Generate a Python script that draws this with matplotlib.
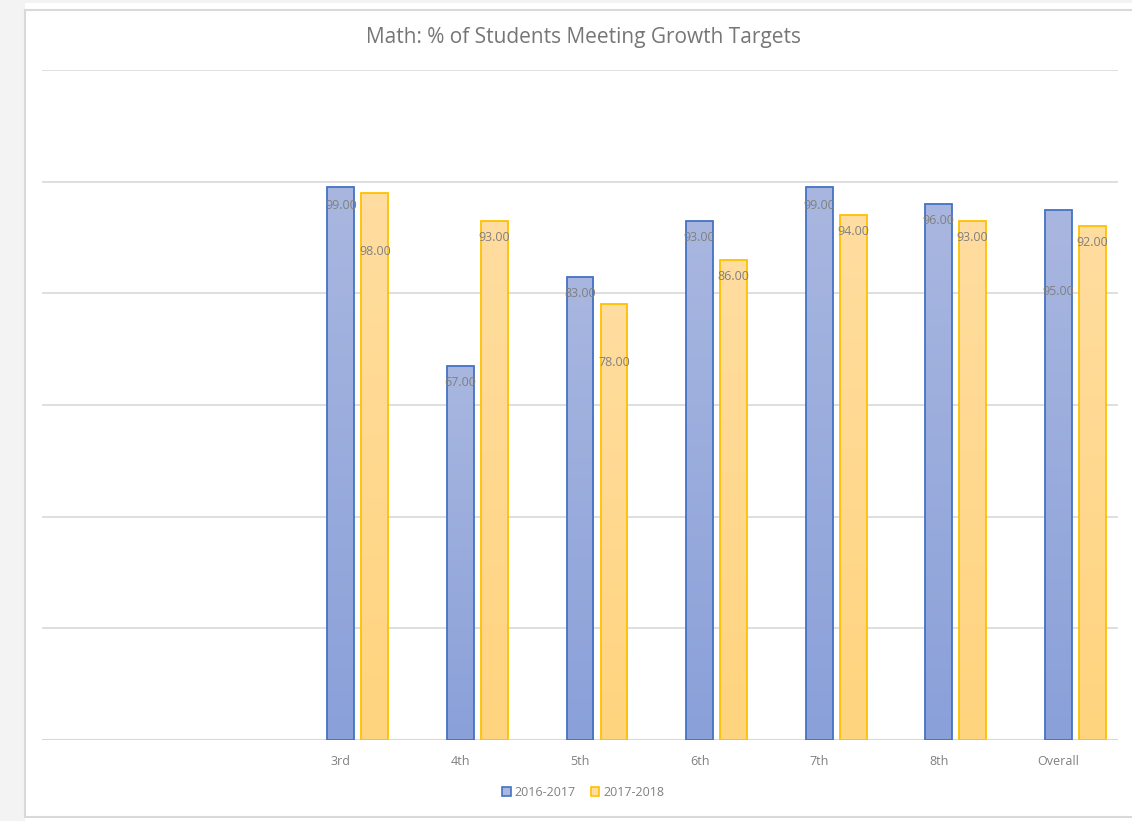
"""Math growth targets — grouped bar chart with gradient fills."""
import numpy as np
import matplotlib
matplotlib.use("Agg")
import matplotlib.pyplot as plt
from matplotlib.patches import Rectangle, Patch
from matplotlib.colors import LinearSegmentedColormap

# --- data ---
CATEGORIES = ["", "", "3rd", "4th", "5th", "6th", "7th", "8th", "Overall"]
SERIES = ["2016-2017", "2017-2018"]
Y_2016 = [None, None, 99, 67, 83, 93, 99, 96, 95]
Y_2017 = [None, None, 98, 93, 78, 86, 94, 93, 92]

# label drop below bar top, in points (style only)
DROP_2016 = [0, 0, 13, 12, 12, 12, 13, 12, 59]
DROP_2017 = [0, 0, 42, 12, 42, 12, 12, 12, 12]

EDGE = ["#4472C4", "#FFC000"]
GRAD = [("#A9B7E0", "#8AA0D9"), ("#FFDDA0", "#FFD47E")]
TEXT = "#808080"
GRID = "#D9D9D9"

plt.rcParams["font.family"] = ["Open Sans", "DejaVu Sans"]

fig = plt.figure(figsize=(11.32, 8.21), dpi=100)
W, H = 1132, 821

# outer frame like the screenshot
fig.patches.append(Rectangle((0, 0), 25 / W, 1, transform=fig.transFigure,
                             facecolor="#F3F3F3", edgecolor="none", zorder=-2))
fig.patches.append(Rectangle((0, 1 - 3 / H), 1, 3 / H, transform=fig.transFigure,
                             facecolor="#F3F3F3", edgecolor="none", zorder=-2))
fig.patches.append(Rectangle((25 / W, 1 - 817 / H), 1.2, (817 - 10) / H,
                             transform=fig.transFigure, facecolor="white",
                             edgecolor="#D9D9D9", linewidth=1.5, zorder=-1))

ax = fig.add_axes([42 / W, 1 - 740 / H, (1118 - 42) / W, (740 - 70) / H])
ax.set_xlim(0, len(CATEGORIES))
ax.set_ylim(0, 120)
ax.set_yticks(np.arange(0, 121, 20))
ax.yaxis.grid(True, color=GRID, linewidth=1.2)
ax.set_axisbelow(True)
for s in ax.spines.values():
    s.set_visible(False)
ax.tick_params(axis="y", left=False, labelleft=False)
ax.tick_params(axis="x", length=0, pad=11, labelsize=9, labelcolor=TEXT)
xs = np.arange(len(CATEGORIES)) + 0.5
ax.set_xticks(xs)
ax.set_xticklabels(CATEGORIES)

bw = 0.225
shift = 0.284
for k, (vals, drops) in enumerate([(Y_2016, DROP_2016), (Y_2017, DROP_2017)]):
    cmap = LinearSegmentedColormap.from_list(f"g{k}", [GRAD[k][1], GRAD[k][0]])
    for x, v, d in zip(xs, vals, drops):
        if v is None:
            continue
        x0 = x + k * shift - bw / 2
        im = ax.imshow(np.linspace(0, 1, 256).reshape(-1, 1), cmap=cmap,
                       origin="lower", aspect="auto",
                       extent=(x0, x0 + bw, 0, v), zorder=2)
        r = Rectangle((x0, 0), bw, v, facecolor="none", edgecolor=EDGE[k],
                      linewidth=1.3, zorder=3)
        ax.add_patch(r)
        im.set_clip_path(r)
        ax.annotate(f"{v:.2f}", (x + k * shift, v), xytext=(0, -d),
                    textcoords="offset points", ha="center", va="center",
                    fontsize=9, color=TEXT, zorder=4)

ax.set_xlim(0, len(CATEGORIES))
ax.set_ylim(0, 120)
ax.axhline(0, color=GRID, linewidth=1.5, zorder=1)

fig.text(584 / W, 1 - 37 / H, "Math: % of Students Meeting Growth Targets",
         ha="center", va="center", fontsize=15, color="#767676")

handles = [Patch(facecolor=GRAD[i][0], edgecolor=EDGE[i], linewidth=1.2) for i in range(2)]
fig.legend(handles, SERIES, loc="center", bbox_to_anchor=(583 / W, 1 - 792 / H),
           ncol=2, frameon=False, fontsize=9, labelcolor=TEXT,
           handlelength=0.7, handleheight=0.7, handletextpad=0.3, columnspacing=1.2)

fig.savefig("out.png", dpi=100)
